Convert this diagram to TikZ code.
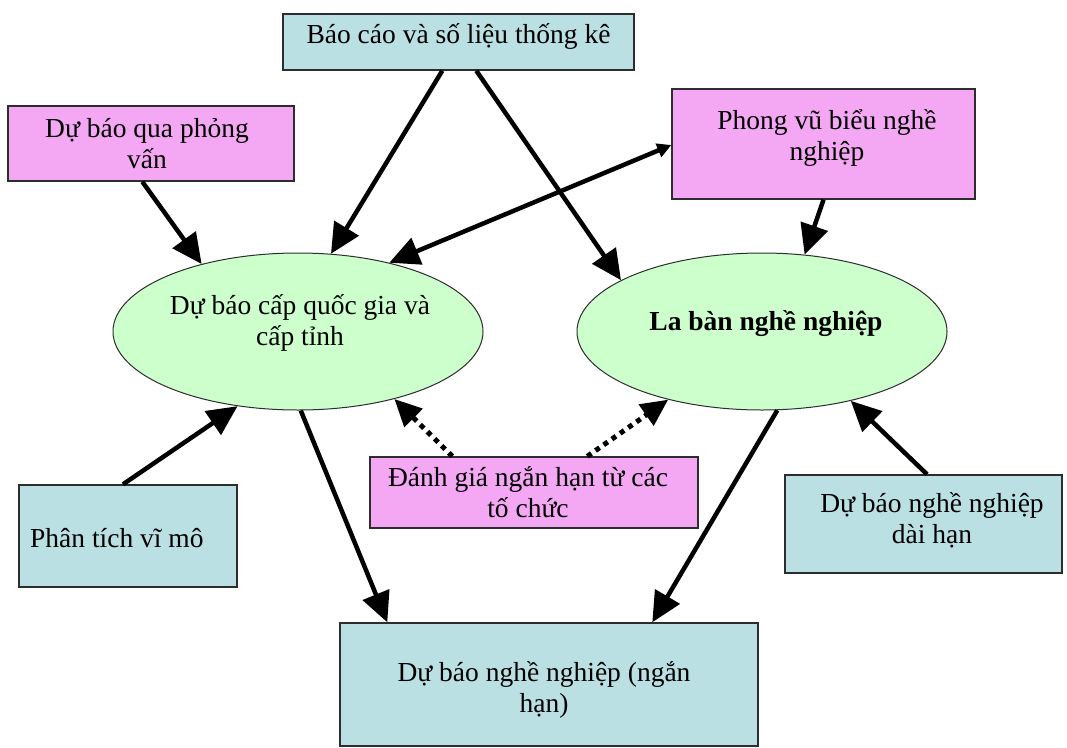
\documentclass[tikz,border=0pt]{standalone}
\usepackage{fontspec}
\setmainfont{Liberation Serif}
\usetikzlibrary{arrows.meta,shapes.geometric}

\definecolor{statblue}{RGB}{187,224,227}
\definecolor{pinkbox}{RGB}{244,168,244}
\definecolor{ellgreen}{RGB}{204,255,204}
\definecolor{edgegray}{RGB}{45,45,45}

\begin{document}
\begin{tikzpicture}[x=1pt,y=1pt,
  box/.style={draw=edgegray, line width=1.4pt, inner sep=0pt},
  bluebox/.style={box, fill=statblue},
  pinkbx/.style={box, fill=pinkbox},
  hub/.style={ellipse, draw=edgegray, line width=1pt, fill=ellgreen, inner sep=0pt,
              minimum width=370pt, minimum height=157pt},
  txt/.style={font=\fontsize{27.5}{31}\selectfont, inner sep=0pt, align=center},
  flow/.style={line width=4.5pt, -{Triangle[length=30pt,width=28pt]}},
  twoway/.style={line width=4.5pt, {Triangle[length=14pt,width=14pt]}-{Triangle[length=30pt,width=28pt]}},
  hint/.style={line width=5pt, dash pattern=on 5pt off 5pt, -{Triangle[length=27pt,width=25pt]}}
]
\useasboundingbox (0,0) rectangle (1067,-747);
\fill[white] (0,0) rectangle (1067,-747);

% boxes
\node[bluebox, minimum width=351pt, minimum height=56pt]  (stats)     at (458.5,-42)  {};
\node[pinkbx,  minimum width=286pt, minimum height=75pt]  (interview) at (151,-143.5) {};
\node[pinkbx,  minimum width=303pt, minimum height=110pt] (barometer) at (823.5,-144) {};
\node[pinkbx,  minimum width=328pt, minimum height=71pt]  (assess)    at (534,-492.5) {};
\node[bluebox, minimum width=218pt, minimum height=102pt] (macro)     at (128,-536)   {};
\node[bluebox, minimum width=277pt, minimum height=98pt]  (longterm)  at (923.5,-524) {};
\node[bluebox, minimum width=418pt, minimum height=123pt] (outcome)   at (549,-684.5) {};

% hubs
\node[hub] (natl)    at (298,-331.5) {};
\node[hub] (compass) at (762,-331.5) {};

% texts (two-line texts are placed by the baseline of their last line)
\node[txt, anchor=base] (stats-t)     at (458.5,-43) {Báo cáo và số liệu thống kê};
\node[txt, anchor=base] (interview-t) at (147,-168)  {Dự báo qua phỏng\\vấn};
\node[txt, anchor=base] (barometer-t) at (827,-160)  {Phong vũ biểu nghề\\nghiệp};
\node[txt, anchor=base] (natl-t)      at (300,-345)  {Dự báo cấp quốc gia và\\cấp tỉnh};
\node[txt, anchor=base, font=\fontsize{27.5}{31}\selectfont\bfseries] (compass-t) at (766,-330) {La bàn nghề nghiệp};
\node[txt, anchor=base] (assess-t)    at (528,-517)  {Đánh giá ngắn hạn từ các\\tố chức};
\node[txt, anchor=base west] (macro-t) at (30,-547)  {Phân tích vĩ mô};
\node[txt, anchor=base] (longterm-t)  at (932,-543)  {Dự báo nghề nghiệp\\dài hạn};
\node[txt, anchor=base] (outcome-t)   at (544,-712)  {Dự báo nghề nghiệp (ngắn\\hạn)};

% connectors
\draw[flow] ([xshift=160pt]stats.south west) -- (natl.67);
\draw[flow] ([xshift=194pt]stats.south west) -- (compass.160);
\draw[flow] ([xshift=135pt]interview.south west) -- (natl.145);
\draw[twoway] ([yshift=-1pt]barometer.west) -- (natl.37);
\draw[flow] (barometer.south) -- (compass.61);
\draw[flow] ([xshift=-5pt]macro.north) -- (natl.231);
\draw[flow] (natl.272) -- ([xshift=48pt]outcome.north west);
\draw[flow] (compass.281) -- ([xshift=313pt]outcome.north west);
\draw[flow] ([xshift=3.5pt]longterm.north) -- (compass.322);
\draw[hint] ([xshift=83pt]assess.north west) -- (natl.325);
\draw[hint] ([xshift=218pt]assess.north west) -- (compass.216);
\end{tikzpicture}
\end{document}
